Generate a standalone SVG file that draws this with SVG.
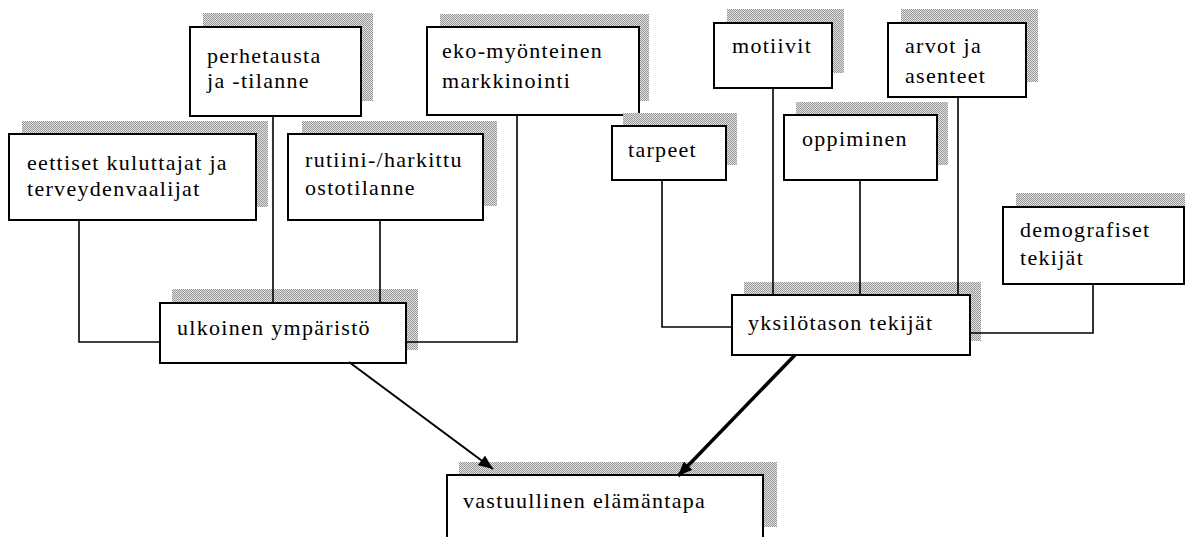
<svg xmlns="http://www.w3.org/2000/svg" width="1185" height="537" viewBox="0 0 1185 537">
<defs>
<pattern id="dots" width="2" height="2" patternUnits="userSpaceOnUse">
<rect width="2" height="2" fill="#e2e2e2"/>
<rect width="1" height="1" fill="#979797"/>
<rect x="1" y="1" width="1" height="1" fill="#979797"/>
</pattern>
<marker id="ah" viewBox="0 0 12 10" refX="12" refY="5" markerWidth="15" markerHeight="12" orient="auto" markerUnits="userSpaceOnUse">
<path d="M0,0 L12,5 L0,10 z" fill="#000"/>
</marker>
</defs>
<style>
.sh{fill:url(#dots);}
.bx{fill:#fff;stroke:#000;stroke-width:2;}
.t{font-family:'Liberation Serif','DejaVu Serif',serif;font-size:22px;letter-spacing:1.3px;fill:#000;}
.c{fill:none;stroke:#000;stroke-width:1.6;}
</style>
<rect width="1185" height="537" fill="#fff"/>

<g id="perhetausta">
<rect class="sh" x="203" y="13" width="170" height="88"/>
<rect class="bx" x="190" y="27" width="171" height="89"/>
<text class="t" font-family="Liberation Serif, serif" x="207" y="63">perhetausta</text>
<text class="t" font-family="Liberation Serif, serif" x="207" y="88">ja -tilanne</text>
</g>

<g id="eko">
<rect class="sh" x="440" y="14" width="209" height="87"/>
<rect class="bx" x="427" y="27" width="212" height="88"/>
<text class="t" font-family="Liberation Serif, serif" x="442" y="58">eko-myönteinen</text>
<text class="t" font-family="Liberation Serif, serif" x="442" y="88">markkinointi</text>
</g>

<g id="eettiset">
<rect class="sh" x="22" y="121" width="246" height="86"/>
<rect class="bx" x="9" y="134" width="247" height="86"/>
<text class="t" font-family="Liberation Serif, serif" x="27" y="170">eettiset kuluttajat ja</text>
<text class="t" font-family="Liberation Serif, serif" x="27" y="196">terveydenvaalijat</text>
</g>

<g id="rutiini">
<rect class="sh" x="302" y="121" width="195" height="85"/>
<rect class="bx" x="288" y="134" width="195" height="86"/>
<text class="t" font-family="Liberation Serif, serif" x="305" y="167">rutiini-/harkittu</text>
<text class="t" font-family="Liberation Serif, serif" x="305" y="195">ostotilanne</text>
</g>

<g id="ulkoinen">
<rect class="sh" x="172" y="289" width="246" height="61"/>
<rect class="bx" x="160" y="303" width="246" height="60"/>
<text class="t" font-family="Liberation Serif, serif" x="177" y="335">ulkoinen ympäristö</text>
</g>

<g id="motiivit">
<rect class="sh" x="727" y="9" width="117" height="64"/>
<rect class="bx" x="714" y="23" width="118" height="65"/>
<text class="t" font-family="Liberation Serif, serif" x="732" y="53">motiivit</text>
</g>

<g id="arvot">
<rect class="sh" x="901" y="9" width="137" height="73"/>
<rect class="bx" x="888" y="23" width="138" height="74"/>
<text class="t" font-family="Liberation Serif, serif" x="905" y="53">arvot ja</text>
<text class="t" font-family="Liberation Serif, serif" x="905" y="83">asenteet</text>
</g>

<g id="tarpeet">
<rect class="sh" x="623" y="113" width="114" height="52"/>
<rect class="bx" x="612" y="126" width="114" height="54"/>
<text class="t" font-family="Liberation Serif, serif" x="628" y="157">tarpeet</text>
</g>

<g id="oppiminen">
<rect class="sh" x="796" y="102" width="152" height="63"/>
<rect class="bx" x="784" y="115" width="153" height="65"/>
<text class="t" font-family="Liberation Serif, serif" x="802" y="146">oppiminen</text>
</g>

<g id="demografiset">
<rect class="sh" x="1016" y="193" width="185" height="77"/>
<rect class="bx" x="1003" y="207" width="181" height="77"/>
<text class="t" font-family="Liberation Serif, serif" x="1020" y="237">demografiset</text>
<text class="t" font-family="Liberation Serif, serif" x="1020" y="265">tekijät</text>
</g>

<g id="yksilotason">
<rect class="sh" x="744" y="282" width="237" height="59"/>
<rect class="bx" x="732" y="295" width="238" height="60"/>
<text class="t" font-family="Liberation Serif, serif" x="748" y="330">yksilötason tekijät</text>
</g>

<g id="vastuullinen">
<rect class="sh" x="459" y="462" width="318" height="65"/>
<rect class="bx" x="447" y="475" width="316" height="70"/>
<text class="t" font-family="Liberation Serif, serif" x="463" y="508">vastuullinen elämäntapa</text>
</g>

<g id="connectors">
<path class="c" d="M79,220 V342 H160"/>
<path class="c" d="M273,116 V303"/>
<path class="c" d="M380,220 V303"/>
<path class="c" d="M517,115 V342 H406"/>
<path class="c" d="M662,180 V327 H732"/>
<path class="c" d="M773,88 V295"/>
<path class="c" d="M860,180 V295"/>
<path class="c" d="M958,97 V295"/>
<path class="c" d="M970,333 H1093 V284"/>
<line x1="349" y1="362" x2="493" y2="469" stroke="#000" stroke-width="2" marker-end="url(#ah)"/>
<line x1="795" y1="355" x2="678" y2="476" stroke="#000" stroke-width="3.5" marker-end="url(#ah)"/>
</g>
</svg>
